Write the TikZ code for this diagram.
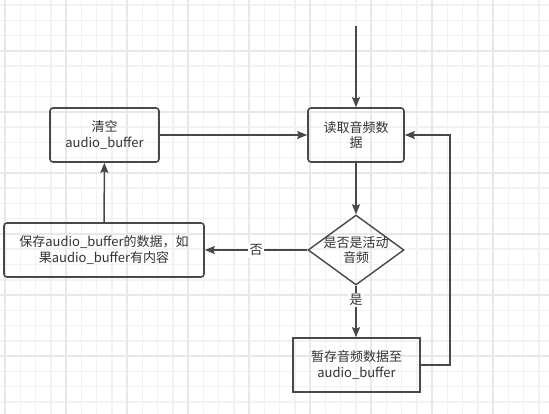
\documentclass[tikz,border=0pt]{standalone}
\usepackage{fontspec}
\setmainfont{Noto Sans CJK SC}
\usetikzlibrary{shapes.geometric,arrows.meta}
\definecolor{gridminor}{HTML}{F2F2F2}
\definecolor{gridmajor}{HTML}{E8E8E8}
\definecolor{stroke}{HTML}{45484D}
\definecolor{ink}{HTML}{333333}

\begin{document}
\begin{tikzpicture}[x=1pt,y=-1pt,
  >={Stealth[length=10pt,width=8pt,inset=1.5pt]},
  every node/.style={font=\fontsize{13}{15.5}\selectfont, text=ink},
  process/.style={draw=stroke, line width=1.6pt, rounded corners=3pt,
    minimum height=54pt, align=center, inner sep=0pt},
  storebox/.style={process, sharp corners},
  decision/.style={diamond, draw=stroke, line width=1.4pt,
    minimum width=96pt, minimum height=70pt, inner sep=0pt},
  flow/.style={->, draw=stroke, line width=1.5pt},
  edgelabel/.style={fill=white, inner sep=1.5pt}]
  % Sizes
  \pgfmathsetmacro{\cell}{15.25}
  % background
  \fill[white] (0,0) rectangle (549,414);
  \useasboundingbox (0,0) rectangle (549,414);
  \foreach \k in {0,...,35} \draw[gridminor, line width=1.5pt] ({5+\cell*\k},0) -- ++(0,414);
  \foreach \k in {0,...,26} \draw[gridminor, line width=1.5pt] (0,{5.25+\cell*\k}) -- ++(549,0);
  \foreach \k in {0,4,...,32} \draw[gridmajor, line width=1.5pt] ({5+\cell*\k},0) -- ++(0,414);
  \foreach \k in {3,7,...,23} \draw[gridmajor, line width=1.5pt] (0,{5.25+\cell*\k}) -- ++(549,0);

  % vertices
  \coordinate (start) at (356,26);
  \node[process, minimum width=96pt] (read) at (356,135) {读取音频数\\据};
  \node[decision, label={[align=center]center:{是否是活动\\音频}}] (active) at (356,250) {};
  \node[storebox, minimum width=127pt] (store) at (356.5,365) {暂存音频数据至\\audio\_buffer};
  \node[process, minimum width=109pt] (clear) at (104.5,135) {清空\\audio\_buffer};
  \node[process, minimum width=200pt] (save) at (104,250) {保存audio\_buffer的数据，如\\果audio\_buffer有内容};
  \coordinate (loopbot) at (450,365);
  \coordinate (looptop) at (450,135);

  % draw diagram
  \draw[flow] (start) -- (read);
  \draw[flow] (read) -- (active);
  \draw[flow] (active.south) -- node[edgelabel, pos=0.28] {是} (active.south |- store.north);
  \draw[flow] (active) -- node[edgelabel] {否} (save);
  \draw[flow] (save) -- (clear);
  \draw[flow] (clear) -- (read);
  \draw[flow] (store.east) -- (loopbot) -- (looptop) -- (read.east);
\end{tikzpicture}
\end{document}
